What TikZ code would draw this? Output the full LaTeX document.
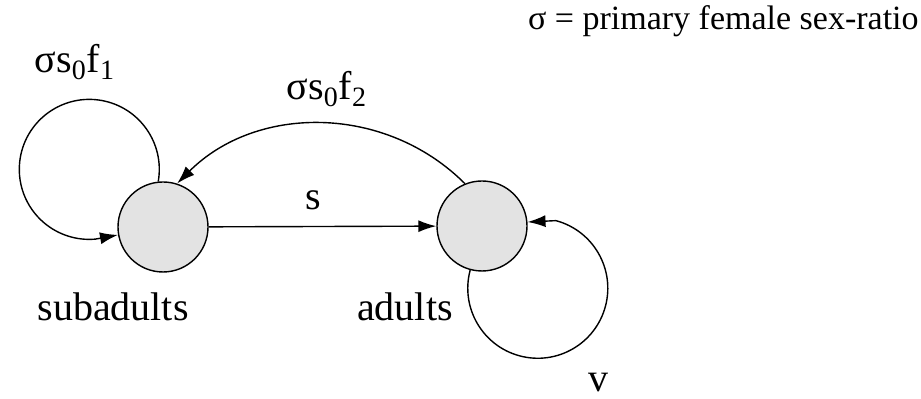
\documentclass[tikz,border=0pt]{standalone}
\usepackage{fontspec}
\setmainfont{Liberation Serif}
\usetikzlibrary{arrows.meta}

\begin{document}
\begin{tikzpicture}[x=0.5pt,y=0.5pt,
			stage/.style={
				draw,
				circle,
				line width=0.7pt,
				fill=gray!22,
				minimum size=45pt,
				inner sep=0pt
			},
			lbl/.style={
				inner sep=0pt,
				font=\fontsize{20}{24}\selectfont
			},
			link/.style={
				line width=0.7pt,
				-{Latex[length=9pt,width=6pt]}
			}]
			
			\useasboundingbox (0,0) rectangle (921,399);
			
			\node(sub)[stage] at (163,172) {};
			
			\node(adu)[stage] at (482,173) {};
			
			\node(sublbl)[lbl] at (113,92) {subadults};
			
			\node(adulbl)[lbl] at (405,92) {adults};
			
			\node(slbl)[lbl] at (313,199) {s};
			
			\node(flbl)[lbl] at (327,310) {σs\textsubscript{0}f\textsubscript{2}};
			
			\node(f1lbl)[lbl] at (75,337) {σs\textsubscript{0}f\textsubscript{1}};
			
			\node(vlbl)[lbl] at (598,16) {v};
			
			\node(key)[lbl,anchor=east,font=\fontsize{17}{20}\selectfont] at (919,378) {σ = primary female sex-ratio};
			
			\draw[link](sub)--(adu);
			
			\draw[link](adu.112) to[out=135,in=45] (sub.72);
			
			\draw[link](sub.96) arc[start angle=-10,end angle=275,radius=35pt] -- (sub.190);
			
			\draw[link](adu.255) arc[start angle=165,end angle=435,radius=35pt] -- (adu.5);
			
		\end{tikzpicture}
\end{document}
